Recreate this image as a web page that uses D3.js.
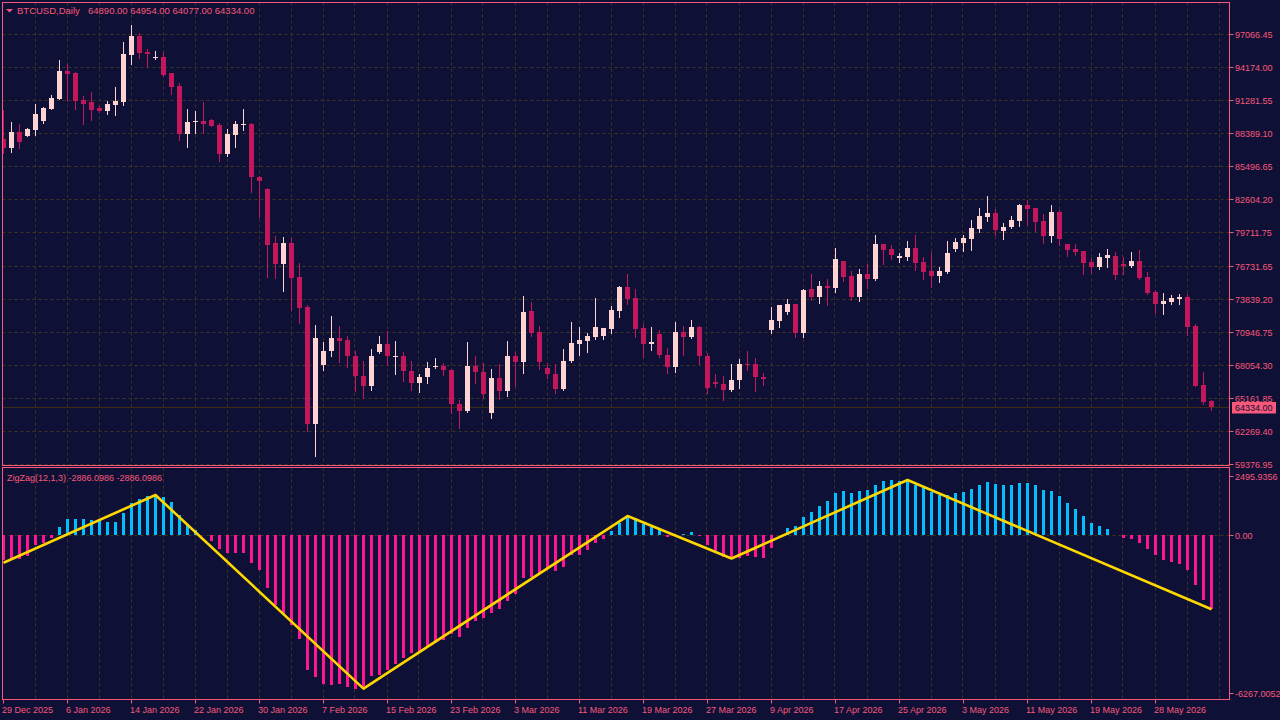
<!DOCTYPE html>
<html>
<head>
<meta charset="utf-8">
<script src="https://cdn.jsdelivr.net/npm/d3@7"></script>
<style>
  html, body { margin: 0; padding: 0; background: #0e1036; }
  svg { display: block; font-family: "Liberation Sans", Arial, sans-serif; }
</style>
</head>
<body>
<svg id="chart" width="1280" height="720"></svg>
<script>
// daily BTCUSD bars
const open = [87862,87097,88477,88152,88679,89470,90525,91378,93839,93664,91290,91114,90587,90349,90877,91141,95272,96916,95510,94982,
  95070,93664,92521,88327,89382,89444,89532,89092,86569,88240,89092,89180,84521,83466,78719,76899,78719,75730,73093,62834,
  68020,69251,70367,70191,68873,67115,66236,69163,69840,68811,68873,67554,66438,66965,67844,67994,67642,64653,63976,67994,
  67466,63800,66939,65735,68873,68284,72741,70895,67818,67291,65910,68371,69866,70130,70482,70570,71185,72767,74851,73884,
  71246,69866,70719,68961,67844,70895,70482,71334,68873,66587,66411,65822,66701,68170,68170,67027,71071,71862,72653,73356,
  70807,74675,73972,74939,74763,77137,75818,73972,75994,75554,78631,78191,77400,77488,78279,77048,76257,75818,76170,78191,
  78719,79070,79949,81004,81356,79774,80125,80653,82060,81796,80653,79334,81444,78631,78191,78015,77048,76609,77400,77576,
  76873,76697,77137,75730,74411,73356,73532,73796,73972,71422,66323,64890];
const high = [90411,89356,89180,88855,90938,90675,91730,94806,94455,93752,91642,91993,90762,91202,92433,96389,97883,97180,95773,95598,
  95510,93700,92784,90499,90323,91114,89620,89268,88741,89444,90499,89268,84609,83554,79334,79246,79158,76961,73268,71510,
  70016,72301,71422,70543,69312,68433,69488,70543,70983,70104,69225,68433,67291,68345,68697,68257,67730,65005,70016,68873,
  68257,67730,68170,70104,69225,74060,73532,71422,68257,68170,69488,71774,71334,70807,73884,71300,73180,74939,75994,74675,
  71598,71334,71071,69576,71774,71422,71950,71422,69137,67291,67115,68170,68609,69312,68697,67379,73093,73330,73796,73400,
  74675,75994,75378,75554,78279,77200,76257,76433,76873,79422,78680,78543,77840,78894,79422,77488,77928,76609,78894,79158,
  79422,80741,81796,82851,81708,80477,81092,82147,82499,81850,81268,82060,81620,78680,78631,78060,77400,77840,78191,77928,
  77488,77928,78103,76170,74587,74323,74147,74235,74235,71598,67466,64954];
const low = [86657,86745,87097,88100,88213,89294,90500,91350,91202,90525,89206,89558,90262,90086,89998,90877,94481,95009,94217,94921,
  93450,91844,87800,87185,88415,88415,88990,85954,86393,87185,88679,83229,81031,75756,75668,74526,72829,71712,62280,60020,
  67581,68811,68284,67844,65735,65119,65822,69100,68020,67229,66614,65822,65647,66438,67757,67141,63862,62482,63888,66438,
  65119,63361,65031,65295,66174,67317,70570,67669,66878,65559,65822,68300,68899,69163,70306,70306,70833,72240,73383,70482,
  68723,69339,68723,67317,67405,68899,70394,68108,65559,66086,64944,65735,65998,67581,65735,66262,70807,71334,72477,70456,
  70456,73708,73444,73268,74411,75378,73708,73620,74763,75500,76873,77312,77048,77224,76345,75554,74851,75290,76100,78015,
  78015,78103,79686,80653,79422,79070,80037,80213,80389,79774,78719,78806,78543,77576,77664,75994,76082,76433,76609,75554,
  75994,76650,75554,74235,72565,72477,73356,73356,70631,66200,64653,64077];
const close = [87097,88477,87624,88741,90059,90587,91466,93839,93602,91228,90965,90437,90323,90938,91202,95334,96916,95448,95360,95070,
  93514,92459,88327,89356,89470,89206,89031,86569,88301,89180,89180,84547,84196,78569,76899,78719,75668,73031,62834,70367,
  69312,70367,70130,68811,67053,66174,68873,69840,68811,68873,67493,66438,67027,67818,67994,67581,64592,63976,67994,67405,
  65471,66939,65735,68873,68284,72653,70833,68284,67229,65910,68433,69928,70191,70543,71334,71246,72829,74851,73822,71185,
  69866,70016,68899,67844,70895,70482,71334,68811,65998,66350,65822,66763,68170,68108,66965,66789,71950,73268,73356,70807,
  74587,73972,74939,74789,77312,75730,73972,75994,75554,78631,78103,77664,77576,78279,76961,76170,75818,76257,77840,78806,
  79158,80037,81092,81356,79861,80125,80741,82060,81708,80565,79334,81444,79070,78103,77928,76961,76609,77488,77664,75906,
  76697,77137,75642,74323,73356,73620,73884,73972,71334,66236,64829,64334];

// ZigZag(12,1,3) histogram and its pivot line
const zzHist = [-975,-949,-923,-819,-390,-312,-104,312,624,624,624,572,533,507,507,858,1248,1391,1521,1560,
  1482,1287,780,390,182,0,-221,-533,-689,-689,-689,-1079,-1352,-2054,-2730,-3055,-3497,-4043,-5252,-5525,
  -5798,-5837,-5798,-5915,-5980,-5980,-5486,-5447,-5252,-5005,-4771,-4589,-4589,-4355,-4121,-4082,-3848,-3965,-3614,-3341,
  -3224,-3029,-2873,-2561,-2288,-1664,-1625,-1469,-1274,-1391,-1235,-767,-767,-572,-325,-143,156,455,702,650,
  429,325,195,-65,0,39,117,-26,-390,-650,-845,-923,-884,-806,-845,-884,-494,0,273,351,
  702,897,1131,1326,1638,1716,1638,1716,1755,1950,2106,2145,2106,2145,1950,1833,1677,1560,1560,1638,
  1677,1794,1950,2067,1989,1950,1950,2028,2028,1950,1755,1716,1521,1248,1014,741,468,351,234,13,
  -104,-143,-299,-533,-767,-962,-1040,-1118,-1352,-1937,-2522,-2886.0986];
const zzBar = [0, 19, 45, 78, 91, 113, 151];
const zzValue = [-1079, 1560, -5980, 741, -910, 2145, -2886.0986];

// axis labels
const priceTicks = [97066.45, 94174.00, 91281.55, 88389.10, 85496.65, 82604.20, 79711.75, 76731.65, 73839.20, 70946.75, 68054.30, 65161.85, 62269.40, 59376.95];
const subTicks = [2495.9356, 0, -6267.0052];
const subTickText = ["2495.9356", "0.00", "-6267.0052"];
const dateLabels = ["29 Dec 2025", "6 Jan 2026", "14 Jan 2026", "22 Jan 2026", "30 Jan 2026", "7 Feb 2026", "15 Feb 2026",
  "23 Feb 2026", "3 Mar 2026", "11 Mar 2026", "19 Mar 2026", "27 Mar 2026", "9 Apr 2026", "17 Apr 2026", "25 Apr 2026",
  "3 May 2026", "11 May 2026", "19 May 2026", "28 May 2026"];
const lastPrice = 64334.00;

// colours
const bg = "#0e1036", fg = "#f8587a", gridCol = "#3e3520";
const bullCol = "#fdd3d3", bearCol = "#c2185b";
const upCol = "#00bfff", dnCol = "#ff1493", zigCol = "#ffd700";

// layout
const frameL = 2.5, frameR = 1229.5;
const mainTop = 2.5, mainBot = 465.5;
const subTop = 467.5, subBot = 699.5;

const svg = d3.select("#chart");
svg.append("rect").attr("width", 1280).attr("height", 720).attr("fill", bg);

const n = close.length;
const x = d3.scaleLinear().domain([0, n - 1]).range([3.5, 3.5 + 8 * (n - 1)]);
const y = d3.scaleLinear().domain([59376.95, 97066.45]).range([463.7, 34.3]);
const ys = d3.scaleLinear().domain([-6267.0052, 2495.9356]).range([696, 471]);

const defs = svg.append("defs");
defs.append("clipPath").attr("id", "clipMain").append("rect")
  .attr("x", frameL + 0.5).attr("y", mainTop + 0.5).attr("width", frameR - frameL - 1).attr("height", mainBot - mainTop - 1);
defs.append("clipPath").attr("id", "clipSub").append("rect")
  .attr("x", frameL + 0.5).attr("y", subTop + 0.5).attr("width", frameR - frameL - 1).attr("height", subBot - subTop - 1);

// vertical grid every 4 bars
const gridBars = d3.range(4, n + 1, 4);
[["clipMain", mainTop, mainBot], ["clipSub", subTop, subBot]].forEach(([clip, t, b]) => {
  svg.append("g").attr("clip-path", `url(#${clip})`)
    .selectAll("line").data(gridBars).enter().append("line")
    .attr("x1", d => Math.round(x(d)) - 0.5).attr("x2", d => Math.round(x(d)) - 0.5)
    .attr("y1", t).attr("y2", b)
    .attr("stroke", gridCol).attr("stroke-dasharray", "3,3");
});

// horizontal grid (price)
svg.append("g").selectAll("line").data(priceTicks).enter().append("line")
  .attr("x1", frameL).attr("x2", frameR)
  .attr("y1", d => Math.round(y(d)) + 0.5).attr("y2", d => Math.round(y(d)) + 0.5)
  .attr("stroke", gridCol).attr("stroke-dasharray", "3,3");
svg.append("line")
  .attr("x1", frameL).attr("x2", frameR)
  .attr("y1", Math.round(ys(0)) + 0.5).attr("y2", Math.round(ys(0)) + 0.5)
  .attr("stroke", gridCol).attr("stroke-dasharray", "3,3");

// last price line
svg.append("line")
  .attr("x1", frameL).attr("x2", frameR)
  .attr("y1", Math.round(y(lastPrice)) + 0.5).attr("y2", Math.round(y(lastPrice)) + 0.5)
  .attr("stroke", "#3d2c12");

// candles
const candles = svg.append("g").attr("clip-path", "url(#clipMain)")
  .selectAll("g").data(d3.range(n)).enter().append("g");
candles.append("line")
  .attr("x1", i => x(i)).attr("x2", i => x(i))
  .attr("y1", i => Math.round(y(high[i]))).attr("y2", i => Math.round(y(low[i])) + 1)
  .attr("stroke", i => close[i] >= open[i] ? bullCol : bearCol);
candles.append("rect")
  .attr("x", i => x(i) - 2.5)
  .attr("y", i => Math.round(y(Math.max(open[i], close[i]))))
  .attr("width", 5)
  .attr("height", i => Math.max(1, Math.round(y(Math.min(open[i], close[i]))) - Math.round(y(Math.max(open[i], close[i])))))
  .attr("fill", i => close[i] >= open[i] ? bullCol : bearCol)
  .attr("shape-rendering", "crispEdges");

// histogram
const sub = svg.append("g").attr("clip-path", "url(#clipSub)");
sub.selectAll("rect").data(zzHist).enter().append("rect")
  .attr("x", (d, i) => x(i) - 1.5)
  .attr("y", d => Math.round(ys(Math.max(0, d))))
  .attr("width", 3)
  .attr("height", d => Math.abs(Math.round(ys(d)) - Math.round(ys(0))))
  .attr("fill", d => d >= 0 ? upCol : dnCol)
  .attr("shape-rendering", "crispEdges");

// zigzag line
const zz = zzBar.map((b, k) => [b, zzValue[k]]);
sub.append("path").datum(zz)
  .attr("d", d3.line().x(d => x(d[0])).y(d => ys(d[1])))
  .attr("fill", "none").attr("stroke", zigCol).attr("stroke-width", 2.6)
  .attr("stroke-linejoin", "round");

// frames
svg.append("rect").attr("x", frameL).attr("y", mainTop).attr("width", frameR - frameL).attr("height", mainBot - mainTop)
  .attr("fill", "none").attr("stroke", fg);
svg.append("rect").attr("x", frameL).attr("y", subTop).attr("width", frameR - frameL).attr("height", subBot - subTop)
  .attr("fill", "none").attr("stroke", fg);

// last price tag (under the axis labels)
const yl = Math.round(y(lastPrice)) + 0.5;
svg.append("rect").attr("x", 1232).attr("y", yl - 5.5).attr("width", 44).attr("height", 11.5).attr("fill", fg);
svg.append("text").attr("x", 1235).attr("y", yl + 3.5).attr("fill", bg)
  .style("font-size", "9px").text(lastPrice.toFixed(2));

// price axis
const pAxis = svg.append("g").selectAll("g").data(priceTicks).enter().append("g")
  .attr("transform", d => `translate(0,${Math.round(y(d)) + 0.5})`);
pAxis.append("line").attr("x1", frameR).attr("x2", frameR + 4).attr("stroke", fg);
pAxis.append("text").attr("x", 1235).attr("y", 3.5)
  .attr("fill", fg).style("font-size", "9px").text(d => d.toFixed(2));

// sub axis
const sAxis = svg.append("g").selectAll("g").data(subTicks).enter().append("g")
  .attr("transform", d => `translate(0,${Math.round(Math.min(subBot - 7, Math.max(subTop + 8.5, ys(d)))) + 0.5})`);
sAxis.append("line").attr("x1", frameR).attr("x2", frameR + 4).attr("stroke", fg);
sAxis.append("text").attr("x", 1235).attr("y", 3.5)
  .attr("fill", fg).style("font-size", "9px").text((d, i) => subTickText[i]);

// date axis
const dAxis = svg.append("g").selectAll("g").data(dateLabels).enter().append("g")
  .attr("transform", (d, j) => `translate(${x(j * 8)},0)`);
dAxis.append("line").attr("y1", subBot).attr("y2", subBot + 4).attr("stroke", fg);
dAxis.append("text").attr("x", -1.5).attr("y", 713)
  .attr("fill", fg).style("font-size", "9px").text(d => d);

// headers
svg.append("path").attr("d", "M6,9 L13,9 L9.5,12.5 Z").attr("fill", fg);
svg.append("text").attr("x", 17).attr("y", 14).attr("fill", fg).style("font-size", "9.5px")
  .text("BTCUSD,Daily");
svg.append("text").attr("x", 88).attr("y", 14).attr("fill", fg).style("font-size", "9.5px")
  .text([open[n - 1], high[n - 1], low[n - 1], close[n - 1]].map(v => v.toFixed(2)).join(" "));
svg.append("text").attr("x", 7).attr("y", 481).attr("fill", fg).style("font-size", "9px")
  .text(`ZigZag(12,1,3) ${zzValue[zzValue.length - 1].toFixed(4)} ${zzHist[n - 1].toFixed(4)}`);
</script>
</body>
</html>
